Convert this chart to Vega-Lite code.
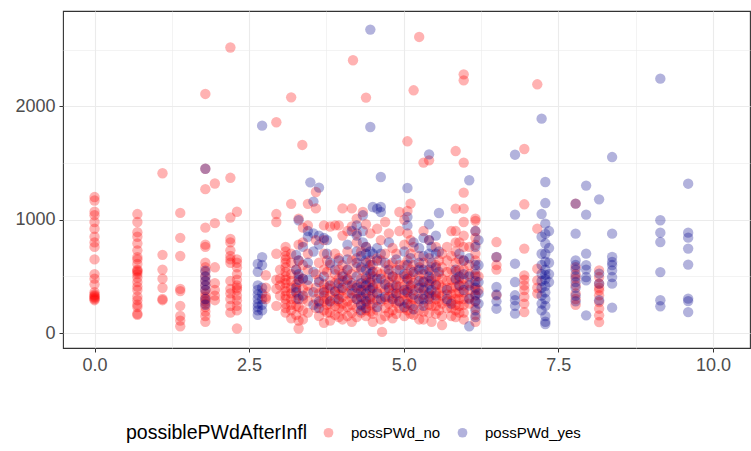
{
"$schema": "https://vega.github.io/schema/vega-lite/v6.json",
"width": 687, "height": 337,
"autosize": {"type": "none"},
"padding": {"left": 63, "top": 11, "right": 1, "bottom": 103},
"background": "white",
"config": {"view": {"stroke": "#333333", "strokeWidth": 1.1}, "font": "Liberation Sans"},
"datasets": {"pts": [
{"x":0,"y":1200,"g":"possPWd_no"},{"x":0,"y":1170,"g":"possPWd_no"},{"x":0,"y":1070,"g":"possPWd_no"},{"x":0,"y":1040,"g":"possPWd_no"},{"x":0,"y":980,"g":"possPWd_no"},{"x":0,"y":920,"g":"possPWd_no"},{"x":0,"y":850,"g":"possPWd_no"},{"x":0,"y":800,"g":"possPWd_no"},{"x":0,"y":760,"g":"possPWd_no"},{"x":0,"y":650,"g":"possPWd_no"},{"x":0,"y":520,"g":"possPWd_no"},{"x":0,"y":480,"g":"possPWd_no"},{"x":0,"y":430,"g":"possPWd_no"},{"x":0,"y":360,"g":"possPWd_no"},{"x":0,"y":340,"g":"possPWd_no"},{"x":0,"y":330,"g":"possPWd_no"},{"x":0,"y":320,"g":"possPWd_no"},{"x":0,"y":310,"g":"possPWd_no"},{"x":0,"y":300,"g":"possPWd_no"},{"x":0,"y":290,"g":"possPWd_no"},
{"x":0.693,"y":1050,"g":"possPWd_no"},{"x":0.693,"y":980,"g":"possPWd_no"},{"x":0.693,"y":890,"g":"possPWd_no"},{"x":0.693,"y":850,"g":"possPWd_no"},{"x":0.693,"y":790,"g":"possPWd_no"},{"x":0.693,"y":730,"g":"possPWd_no"},{"x":0.693,"y":670,"g":"possPWd_no"},{"x":0.693,"y":650,"g":"possPWd_no"},{"x":0.693,"y":610,"g":"possPWd_no"},{"x":0.693,"y":560,"g":"possPWd_no"},{"x":0.693,"y":550,"g":"possPWd_no"},{"x":0.693,"y":540,"g":"possPWd_no"},{"x":0.693,"y":520,"g":"possPWd_no"},{"x":0.693,"y":490,"g":"possPWd_no"},{"x":0.693,"y":450,"g":"possPWd_no"},{"x":0.693,"y":410,"g":"possPWd_no"},{"x":0.693,"y":380,"g":"possPWd_no"},{"x":0.693,"y":320,"g":"possPWd_no"},{"x":0.693,"y":290,"g":"possPWd_no"},{"x":0.693,"y":250,"g":"possPWd_no"},{"x":0.693,"y":230,"g":"possPWd_no"},{"x":0.693,"y":170,"g":"possPWd_no"},{"x":0.693,"y":160,"g":"possPWd_no"},
{"x":1.099,"y":1410,"g":"possPWd_no"},{"x":1.099,"y":690,"g":"possPWd_no"},{"x":1.099,"y":560,"g":"possPWd_no"},{"x":1.099,"y":480,"g":"possPWd_no"},{"x":1.099,"y":400,"g":"possPWd_no"},{"x":1.099,"y":300,"g":"possPWd_no"},{"x":1.099,"y":290,"g":"possPWd_no"},
{"x":1.386,"y":1060,"g":"possPWd_no"},{"x":1.386,"y":840,"g":"possPWd_no"},{"x":1.386,"y":680,"g":"possPWd_no"},{"x":1.386,"y":390,"g":"possPWd_no"},{"x":1.386,"y":370,"g":"possPWd_no"},{"x":1.386,"y":240,"g":"possPWd_no"},{"x":1.386,"y":150,"g":"possPWd_no"},{"x":1.386,"y":110,"g":"possPWd_no"},{"x":1.386,"y":60,"g":"possPWd_no"},
{"x":1.792,"y":2110,"g":"possPWd_no"},{"x":1.792,"y":1450,"g":"possPWd_no"},{"x":1.792,"y":1270,"g":"possPWd_no"},{"x":1.792,"y":930,"g":"possPWd_no"},{"x":1.792,"y":780,"g":"possPWd_no"},{"x":1.792,"y":760,"g":"possPWd_no"},{"x":1.792,"y":620,"g":"possPWd_no"},{"x":1.792,"y":580,"g":"possPWd_no"},{"x":1.792,"y":540,"g":"possPWd_no"},{"x":1.792,"y":500,"g":"possPWd_no"},{"x":1.792,"y":460,"g":"possPWd_no"},{"x":1.792,"y":420,"g":"possPWd_no"},{"x":1.792,"y":380,"g":"possPWd_no"},{"x":1.792,"y":350,"g":"possPWd_no"},{"x":1.792,"y":320,"g":"possPWd_no"},{"x":1.792,"y":300,"g":"possPWd_no"},{"x":1.792,"y":280,"g":"possPWd_no"},{"x":1.792,"y":260,"g":"possPWd_no"},{"x":1.792,"y":230,"g":"possPWd_no"},{"x":1.792,"y":190,"g":"possPWd_no"},{"x":1.792,"y":150,"g":"possPWd_no"},{"x":1.792,"y":100,"g":"possPWd_no"},
{"x":1.792,"y":1450,"g":"possPWd_yes"},{"x":1.792,"y":550,"g":"possPWd_yes"},{"x":1.792,"y":500,"g":"possPWd_yes"},{"x":1.792,"y":460,"g":"possPWd_yes"},{"x":1.792,"y":420,"g":"possPWd_yes"},{"x":1.792,"y":380,"g":"possPWd_yes"},{"x":1.792,"y":300,"g":"possPWd_yes"},{"x":1.792,"y":250,"g":"possPWd_yes"},
{"x":1.946,"y":1320,"g":"possPWd_no"},{"x":1.946,"y":970,"g":"possPWd_no"},{"x":1.946,"y":580,"g":"possPWd_no"},{"x":1.946,"y":440,"g":"possPWd_no"},{"x":1.946,"y":380,"g":"possPWd_no"},{"x":1.946,"y":330,"g":"possPWd_no"},{"x":1.946,"y":290,"g":"possPWd_no"},
{"x":2.197,"y":2520,"g":"possPWd_no"},{"x":2.197,"y":1370,"g":"possPWd_no"},{"x":2.197,"y":1020,"g":"possPWd_no"},{"x":2.197,"y":830,"g":"possPWd_no"},{"x":2.197,"y":800,"g":"possPWd_no"},{"x":2.197,"y":730,"g":"possPWd_no"},{"x":2.197,"y":680,"g":"possPWd_no"},{"x":2.197,"y":650,"g":"possPWd_no"},{"x":2.197,"y":620,"g":"possPWd_no"},{"x":2.197,"y":460,"g":"possPWd_no"},{"x":2.197,"y":390,"g":"possPWd_no"},{"x":2.197,"y":350,"g":"possPWd_no"},{"x":2.197,"y":300,"g":"possPWd_no"},{"x":2.197,"y":240,"g":"possPWd_no"},{"x":2.197,"y":180,"g":"possPWd_no"},
{"x":2.303,"y":1070,"g":"possPWd_no"},{"x":2.303,"y":650,"g":"possPWd_no"},{"x":2.303,"y":620,"g":"possPWd_no"},{"x":2.303,"y":580,"g":"possPWd_no"},{"x":2.303,"y":520,"g":"possPWd_no"},{"x":2.303,"y":470,"g":"possPWd_no"},{"x":2.303,"y":420,"g":"possPWd_no"},{"x":2.303,"y":400,"g":"possPWd_no"},{"x":2.303,"y":380,"g":"possPWd_no"},{"x":2.303,"y":330,"g":"possPWd_no"},{"x":2.303,"y":290,"g":"possPWd_no"},{"x":2.303,"y":240,"g":"possPWd_no"},{"x":2.303,"y":200,"g":"possPWd_no"},{"x":2.303,"y":40,"g":"possPWd_no"},
{"x":2.64,"y":610,"g":"possPWd_yes"},{"x":2.64,"y":540,"g":"possPWd_yes"},{"x":2.64,"y":420,"g":"possPWd_yes"},{"x":2.64,"y":380,"g":"possPWd_yes"},{"x":2.64,"y":340,"g":"possPWd_yes"},{"x":2.64,"y":300,"g":"possPWd_yes"},{"x":2.64,"y":260,"g":"possPWd_yes"},{"x":2.64,"y":230,"g":"possPWd_yes"},{"x":2.64,"y":200,"g":"possPWd_yes"},{"x":2.64,"y":160,"g":"possPWd_yes"},
{"x":2.71,"y":1830,"g":"possPWd_yes"},{"x":2.71,"y":670,"g":"possPWd_yes"},{"x":2.71,"y":600,"g":"possPWd_yes"},{"x":2.71,"y":400,"g":"possPWd_yes"},{"x":2.71,"y":350,"g":"possPWd_yes"},{"x":2.71,"y":300,"g":"possPWd_yes"},{"x":2.71,"y":250,"g":"possPWd_yes"},{"x":2.71,"y":200,"g":"possPWd_yes"},
{"x":2.77,"y":510,"g":"possPWd_no"},{"x":2.77,"y":400,"g":"possPWd_no"},{"x":2.77,"y":320,"g":"possPWd_no"},{"x":2.77,"y":300,"g":"possPWd_no"},
{"x":2.94,"y":1860,"g":"possPWd_no"},{"x":2.94,"y":1050,"g":"possPWd_no"},{"x":2.94,"y":980,"g":"possPWd_no"},{"x":2.94,"y":700,"g":"possPWd_no"},{"x":2.94,"y":470,"g":"possPWd_no"},{"x":2.94,"y":390,"g":"possPWd_no"},{"x":2.94,"y":240,"g":"possPWd_no"},
{"x":3.0,"y":560,"g":"possPWd_no"},{"x":3.0,"y":480,"g":"possPWd_no"},{"x":3.0,"y":420,"g":"possPWd_no"},{"x":3.0,"y":330,"g":"possPWd_no"},
{"x":3.09,"y":760,"g":"possPWd_no"},{"x":3.09,"y":720,"g":"possPWd_no"},{"x":3.09,"y":680,"g":"possPWd_no"},{"x":3.09,"y":650,"g":"possPWd_no"},{"x":3.09,"y":620,"g":"possPWd_no"},{"x":3.09,"y":580,"g":"possPWd_no"},{"x":3.09,"y":540,"g":"possPWd_no"},{"x":3.09,"y":500,"g":"possPWd_no"},{"x":3.09,"y":470,"g":"possPWd_no"},{"x":3.09,"y":440,"g":"possPWd_no"},{"x":3.09,"y":400,"g":"possPWd_no"},{"x":3.09,"y":370,"g":"possPWd_no"},{"x":3.09,"y":330,"g":"possPWd_no"},{"x":3.09,"y":300,"g":"possPWd_no"},{"x":3.09,"y":260,"g":"possPWd_no"},{"x":3.09,"y":220,"g":"possPWd_no"},{"x":3.09,"y":180,"g":"possPWd_no"},
{"x":3.18,"y":2080,"g":"possPWd_no"},{"x":3.18,"y":1140,"g":"possPWd_no"},{"x":3.18,"y":700,"g":"possPWd_no"},{"x":3.18,"y":620,"g":"possPWd_no"},{"x":3.18,"y":520,"g":"possPWd_no"},{"x":3.18,"y":460,"g":"possPWd_no"},{"x":3.18,"y":400,"g":"possPWd_no"},{"x":3.18,"y":350,"g":"possPWd_no"},{"x":3.18,"y":300,"g":"possPWd_no"},{"x":3.18,"y":250,"g":"possPWd_no"},{"x":3.18,"y":200,"g":"possPWd_no"},{"x":3.18,"y":130,"g":"possPWd_no"},
{"x":3.26,"y":560,"g":"possPWd_no"},{"x":3.26,"y":430,"g":"possPWd_no"},{"x":3.26,"y":380,"g":"possPWd_no"},{"x":3.26,"y":300,"g":"possPWd_no"},{"x":3.26,"y":240,"g":"possPWd_no"},{"x":3.26,"y":160,"g":"possPWd_no"},
{"x":3.26,"y":690,"g":"possPWd_yes"},{"x":3.26,"y":560,"g":"possPWd_yes"},{"x":3.26,"y":400,"g":"possPWd_yes"},{"x":3.26,"y":360,"g":"possPWd_yes"},
{"x":3.3,"y":1010,"g":"possPWd_no"},{"x":3.3,"y":780,"g":"possPWd_no"},{"x":3.3,"y":640,"g":"possPWd_no"},{"x":3.3,"y":500,"g":"possPWd_no"},{"x":3.3,"y":450,"g":"possPWd_no"},{"x":3.3,"y":330,"g":"possPWd_no"},{"x":3.3,"y":230,"g":"possPWd_no"},{"x":3.3,"y":110,"g":"possPWd_no"},{"x":3.3,"y":40,"g":"possPWd_no"},
{"x":3.3,"y":995,"g":"possPWd_yes"},{"x":3.3,"y":640,"g":"possPWd_yes"},{"x":3.3,"y":520,"g":"possPWd_yes"},{"x":3.3,"y":470,"g":"possPWd_yes"},{"x":3.3,"y":300,"g":"possPWd_yes"},
{"x":3.36,"y":1660,"g":"possPWd_no"},
{"x":3.37,"y":930,"g":"possPWd_no"},{"x":3.37,"y":800,"g":"possPWd_no"},{"x":3.37,"y":600,"g":"possPWd_no"},{"x":3.37,"y":480,"g":"possPWd_no"},{"x":3.37,"y":390,"g":"possPWd_no"},{"x":3.37,"y":300,"g":"possPWd_no"},{"x":3.37,"y":200,"g":"possPWd_no"},{"x":3.37,"y":120,"g":"possPWd_no"},
{"x":3.37,"y":760,"g":"possPWd_yes"},{"x":3.37,"y":480,"g":"possPWd_yes"},{"x":3.37,"y":330,"g":"possPWd_yes"},
{"x":3.45,"y":1140,"g":"possPWd_no"},{"x":3.45,"y":950,"g":"possPWd_no"},{"x":3.45,"y":700,"g":"possPWd_no"},{"x":3.45,"y":560,"g":"possPWd_no"},{"x":3.45,"y":420,"g":"possPWd_no"},{"x":3.45,"y":360,"g":"possPWd_no"},{"x":3.45,"y":280,"g":"possPWd_no"},{"x":3.45,"y":180,"g":"possPWd_no"},
{"x":3.45,"y":900,"g":"possPWd_yes"},{"x":3.45,"y":850,"g":"possPWd_yes"},{"x":3.45,"y":620,"g":"possPWd_yes"},{"x":3.45,"y":470,"g":"possPWd_yes"},
{"x":3.49,"y":1330,"g":"possPWd_yes"},
{"x":3.54,"y":1160,"g":"possPWd_yes"},{"x":3.54,"y":880,"g":"possPWd_yes"},{"x":3.54,"y":720,"g":"possPWd_yes"},{"x":3.54,"y":540,"g":"possPWd_yes"},{"x":3.54,"y":360,"g":"possPWd_yes"},{"x":3.54,"y":250,"g":"possPWd_yes"},
{"x":3.58,"y":1245,"g":"possPWd_no"},{"x":3.58,"y":1100,"g":"possPWd_no"},{"x":3.58,"y":820,"g":"possPWd_no"},{"x":3.58,"y":520,"g":"possPWd_no"},{"x":3.58,"y":400,"g":"possPWd_no"},{"x":3.58,"y":300,"g":"possPWd_no"},{"x":3.58,"y":220,"g":"possPWd_no"},
{"x":3.63,"y":620,"g":"possPWd_no"},{"x":3.63,"y":470,"g":"possPWd_no"},{"x":3.63,"y":350,"g":"possPWd_no"},{"x":3.63,"y":260,"g":"possPWd_no"},{"x":3.63,"y":150,"g":"possPWd_no"},
{"x":3.63,"y":1283,"g":"possPWd_yes"},{"x":3.63,"y":860,"g":"possPWd_yes"},{"x":3.63,"y":780,"g":"possPWd_yes"},{"x":3.63,"y":450,"g":"possPWd_yes"},{"x":3.63,"y":280,"g":"possPWd_yes"},{"x":3.63,"y":220,"g":"possPWd_yes"},
{"x":3.71,"y":950,"g":"possPWd_no"},{"x":3.71,"y":820,"g":"possPWd_no"},{"x":3.71,"y":700,"g":"possPWd_no"},{"x":3.71,"y":560,"g":"possPWd_no"},{"x":3.71,"y":430,"g":"possPWd_no"},{"x":3.71,"y":380,"g":"possPWd_no"},{"x":3.71,"y":330,"g":"possPWd_no"},{"x":3.71,"y":280,"g":"possPWd_no"},{"x":3.71,"y":200,"g":"possPWd_no"},{"x":3.71,"y":90,"g":"possPWd_no"},
{"x":3.71,"y":840,"g":"possPWd_yes"},{"x":3.71,"y":500,"g":"possPWd_yes"},{"x":3.71,"y":360,"g":"possPWd_yes"},
{"x":3.76,"y":640,"g":"possPWd_no"},{"x":3.76,"y":540,"g":"possPWd_no"},{"x":3.76,"y":400,"g":"possPWd_no"},{"x":3.76,"y":300,"g":"possPWd_no"},{"x":3.76,"y":250,"g":"possPWd_no"},{"x":3.76,"y":180,"g":"possPWd_no"},
{"x":3.76,"y":820,"g":"possPWd_yes"},{"x":3.76,"y":700,"g":"possPWd_yes"},
{"x":3.81,"y":940,"g":"possPWd_no"},{"x":3.81,"y":600,"g":"possPWd_no"},{"x":3.81,"y":460,"g":"possPWd_no"},{"x":3.81,"y":390,"g":"possPWd_no"},{"x":3.81,"y":330,"g":"possPWd_no"},{"x":3.81,"y":260,"g":"possPWd_no"},{"x":3.81,"y":180,"g":"possPWd_no"},{"x":3.81,"y":110,"g":"possPWd_no"},
{"x":3.81,"y":620,"g":"possPWd_yes"},{"x":3.81,"y":420,"g":"possPWd_yes"},{"x":3.81,"y":280,"g":"possPWd_yes"},
{"x":3.89,"y":950,"g":"possPWd_no"},{"x":3.89,"y":700,"g":"possPWd_no"},{"x":3.89,"y":520,"g":"possPWd_no"},{"x":3.89,"y":440,"g":"possPWd_no"},{"x":3.89,"y":360,"g":"possPWd_no"},{"x":3.89,"y":300,"g":"possPWd_no"},{"x":3.89,"y":240,"g":"possPWd_no"},{"x":3.89,"y":160,"g":"possPWd_no"},
{"x":3.89,"y":560,"g":"possPWd_yes"},{"x":3.89,"y":370,"g":"possPWd_yes"},
{"x":3.95,"y":950,"g":"possPWd_no"},{"x":3.95,"y":660,"g":"possPWd_no"},{"x":3.95,"y":560,"g":"possPWd_no"},{"x":3.95,"y":480,"g":"possPWd_no"},{"x":3.95,"y":400,"g":"possPWd_no"},{"x":3.95,"y":340,"g":"possPWd_no"},{"x":3.95,"y":280,"g":"possPWd_no"},{"x":3.95,"y":220,"g":"possPWd_no"},{"x":3.95,"y":140,"g":"possPWd_no"},
{"x":3.95,"y":640,"g":"possPWd_yes"},{"x":3.95,"y":440,"g":"possPWd_yes"},{"x":3.95,"y":300,"g":"possPWd_yes"},
{"x":4.01,"y":1100,"g":"possPWd_no"},{"x":4.01,"y":860,"g":"possPWd_no"},{"x":4.01,"y":600,"g":"possPWd_no"},{"x":4.01,"y":520,"g":"possPWd_no"},{"x":4.01,"y":460,"g":"possPWd_no"},{"x":4.01,"y":380,"g":"possPWd_no"},{"x":4.01,"y":320,"g":"possPWd_no"},{"x":4.01,"y":260,"g":"possPWd_no"},{"x":4.01,"y":200,"g":"possPWd_no"},{"x":4.01,"y":120,"g":"possPWd_no"},
{"x":4.01,"y":500,"g":"possPWd_yes"},{"x":4.01,"y":400,"g":"possPWd_yes"},
{"x":4.09,"y":900,"g":"possPWd_no"},{"x":4.09,"y":720,"g":"possPWd_no"},{"x":4.09,"y":560,"g":"possPWd_no"},{"x":4.09,"y":480,"g":"possPWd_no"},{"x":4.09,"y":420,"g":"possPWd_no"},{"x":4.09,"y":350,"g":"possPWd_no"},{"x":4.09,"y":280,"g":"possPWd_no"},{"x":4.09,"y":230,"g":"possPWd_no"},{"x":4.09,"y":150,"g":"possPWd_no"},
{"x":4.09,"y":780,"g":"possPWd_yes"},{"x":4.09,"y":650,"g":"possPWd_yes"},{"x":4.09,"y":560,"g":"possPWd_yes"},{"x":4.09,"y":470,"g":"possPWd_yes"},
{"x":4.16,"y":1100,"g":"possPWd_no"},{"x":4.16,"y":940,"g":"possPWd_no"},{"x":4.16,"y":640,"g":"possPWd_no"},{"x":4.16,"y":520,"g":"possPWd_no"},{"x":4.16,"y":440,"g":"possPWd_no"},{"x":4.16,"y":380,"g":"possPWd_no"},{"x":4.16,"y":310,"g":"possPWd_no"},{"x":4.16,"y":250,"g":"possPWd_no"},{"x":4.16,"y":180,"g":"possPWd_no"},{"x":4.16,"y":100,"g":"possPWd_no"},
{"x":4.16,"y":900,"g":"possPWd_yes"},{"x":4.16,"y":420,"g":"possPWd_yes"},{"x":4.16,"y":350,"g":"possPWd_yes"},
{"x":4.18,"y":2407,"g":"possPWd_no"},
{"x":4.24,"y":1010,"g":"possPWd_no"},{"x":4.24,"y":880,"g":"possPWd_no"},{"x":4.24,"y":800,"g":"possPWd_no"},{"x":4.24,"y":660,"g":"possPWd_no"},{"x":4.24,"y":580,"g":"possPWd_no"},{"x":4.24,"y":420,"g":"possPWd_no"},{"x":4.24,"y":350,"g":"possPWd_no"},{"x":4.24,"y":300,"g":"possPWd_no"},{"x":4.24,"y":220,"g":"possPWd_no"},{"x":4.24,"y":140,"g":"possPWd_no"},
{"x":4.24,"y":950,"g":"possPWd_yes"},{"x":4.24,"y":860,"g":"possPWd_yes"},{"x":4.24,"y":720,"g":"possPWd_yes"},{"x":4.24,"y":620,"g":"possPWd_yes"},{"x":4.24,"y":500,"g":"possPWd_yes"},{"x":4.24,"y":400,"g":"possPWd_yes"},{"x":4.24,"y":300,"g":"possPWd_yes"},
{"x":4.31,"y":720,"g":"possPWd_no"},{"x":4.31,"y":560,"g":"possPWd_no"},{"x":4.31,"y":480,"g":"possPWd_no"},{"x":4.31,"y":410,"g":"possPWd_no"},{"x":4.31,"y":360,"g":"possPWd_no"},{"x":4.31,"y":300,"g":"possPWd_no"},{"x":4.31,"y":240,"g":"possPWd_no"},{"x":4.31,"y":180,"g":"possPWd_no"},
{"x":4.31,"y":680,"g":"possPWd_yes"},{"x":4.31,"y":580,"g":"possPWd_yes"},{"x":4.31,"y":440,"g":"possPWd_yes"},{"x":4.31,"y":380,"g":"possPWd_yes"},{"x":4.31,"y":320,"g":"possPWd_yes"},{"x":4.31,"y":250,"g":"possPWd_yes"},{"x":4.31,"y":200,"g":"possPWd_yes"},
{"x":4.34,"y":1068,"g":"possPWd_no"},
{"x":4.34,"y":1039,"g":"possPWd_yes"},{"x":4.34,"y":900,"g":"possPWd_yes"},{"x":4.34,"y":800,"g":"possPWd_yes"},
{"x":4.39,"y":2078,"g":"possPWd_no"},{"x":4.39,"y":960,"g":"possPWd_no"},{"x":4.39,"y":760,"g":"possPWd_no"},{"x":4.39,"y":620,"g":"possPWd_no"},{"x":4.39,"y":500,"g":"possPWd_no"},{"x":4.39,"y":440,"g":"possPWd_no"},{"x":4.39,"y":380,"g":"possPWd_no"},{"x":4.39,"y":300,"g":"possPWd_no"},{"x":4.39,"y":260,"g":"possPWd_no"},{"x":4.39,"y":200,"g":"possPWd_no"},{"x":4.39,"y":150,"g":"possPWd_no"},
{"x":4.39,"y":760,"g":"possPWd_yes"},{"x":4.39,"y":700,"g":"possPWd_yes"},{"x":4.39,"y":640,"g":"possPWd_yes"},{"x":4.39,"y":560,"g":"possPWd_yes"},{"x":4.39,"y":480,"g":"possPWd_yes"},{"x":4.39,"y":420,"g":"possPWd_yes"},{"x":4.39,"y":350,"g":"possPWd_yes"},{"x":4.39,"y":280,"g":"possPWd_yes"},{"x":4.39,"y":220,"g":"possPWd_yes"},
{"x":4.46,"y":880,"g":"possPWd_no"},{"x":4.46,"y":640,"g":"possPWd_no"},{"x":4.46,"y":560,"g":"possPWd_no"},{"x":4.46,"y":480,"g":"possPWd_no"},{"x":4.46,"y":400,"g":"possPWd_no"},{"x":4.46,"y":320,"g":"possPWd_no"},{"x":4.46,"y":250,"g":"possPWd_no"},{"x":4.46,"y":190,"g":"possPWd_no"},
{"x":4.46,"y":2678,"g":"possPWd_yes"},{"x":4.46,"y":1818,"g":"possPWd_yes"},{"x":4.46,"y":720,"g":"possPWd_yes"},{"x":4.46,"y":600,"g":"possPWd_yes"},{"x":4.46,"y":520,"g":"possPWd_yes"},{"x":4.46,"y":450,"g":"possPWd_yes"},{"x":4.46,"y":380,"g":"possPWd_yes"},{"x":4.46,"y":300,"g":"possPWd_yes"},
{"x":4.5,"y":600,"g":"possPWd_no"},{"x":4.5,"y":500,"g":"possPWd_no"},{"x":4.5,"y":420,"g":"possPWd_no"},{"x":4.5,"y":340,"g":"possPWd_no"},{"x":4.5,"y":260,"g":"possPWd_no"},{"x":4.5,"y":170,"g":"possPWd_no"},{"x":4.5,"y":100,"g":"possPWd_no"},
{"x":4.5,"y":1112,"g":"possPWd_yes"},{"x":4.5,"y":700,"g":"possPWd_yes"},{"x":4.5,"y":540,"g":"possPWd_yes"},{"x":4.5,"y":400,"g":"possPWd_yes"},
{"x":4.57,"y":920,"g":"possPWd_no"},{"x":4.57,"y":660,"g":"possPWd_no"},{"x":4.57,"y":540,"g":"possPWd_no"},{"x":4.57,"y":440,"g":"possPWd_no"},{"x":4.57,"y":360,"g":"possPWd_no"},{"x":4.57,"y":290,"g":"possPWd_no"},{"x":4.57,"y":200,"g":"possPWd_no"},
{"x":4.57,"y":1098,"g":"possPWd_yes"},{"x":4.57,"y":750,"g":"possPWd_yes"},{"x":4.57,"y":640,"g":"possPWd_yes"},{"x":4.57,"y":480,"g":"possPWd_yes"},{"x":4.57,"y":350,"g":"possPWd_yes"},{"x":4.57,"y":230,"g":"possPWd_yes"},
{"x":4.63,"y":820,"g":"possPWd_no"},{"x":4.63,"y":640,"g":"possPWd_no"},{"x":4.63,"y":520,"g":"possPWd_no"},{"x":4.63,"y":400,"g":"possPWd_no"},{"x":4.63,"y":280,"g":"possPWd_no"},{"x":4.63,"y":120,"g":"possPWd_no"},
{"x":4.63,"y":1377,"g":"possPWd_yes"},{"x":4.63,"y":1112,"g":"possPWd_yes"},{"x":4.63,"y":1068,"g":"possPWd_yes"},{"x":4.63,"y":700,"g":"possPWd_yes"},{"x":4.63,"y":480,"g":"possPWd_yes"},{"x":4.63,"y":300,"g":"possPWd_yes"},
{"x":4.65,"y":10,"g":"possPWd_no"},
{"x":4.7,"y":980,"g":"possPWd_no"},{"x":4.7,"y":700,"g":"possPWd_no"},{"x":4.7,"y":560,"g":"possPWd_no"},{"x":4.7,"y":470,"g":"possPWd_no"},{"x":4.7,"y":380,"g":"possPWd_no"},{"x":4.7,"y":300,"g":"possPWd_no"},{"x":4.7,"y":220,"g":"possPWd_no"},{"x":4.7,"y":150,"g":"possPWd_no"},
{"x":4.7,"y":620,"g":"possPWd_yes"},{"x":4.7,"y":430,"g":"possPWd_yes"},{"x":4.7,"y":320,"g":"possPWd_yes"},
{"x":4.76,"y":880,"g":"possPWd_no"},{"x":4.76,"y":600,"g":"possPWd_no"},{"x":4.76,"y":520,"g":"possPWd_no"},{"x":4.76,"y":450,"g":"possPWd_no"},{"x":4.76,"y":380,"g":"possPWd_no"},{"x":4.76,"y":320,"g":"possPWd_no"},{"x":4.76,"y":260,"g":"possPWd_no"},{"x":4.76,"y":180,"g":"possPWd_no"},
{"x":4.76,"y":800,"g":"possPWd_yes"},{"x":4.76,"y":560,"g":"possPWd_yes"},{"x":4.76,"y":400,"g":"possPWd_yes"},
{"x":4.82,"y":750,"g":"possPWd_no"},{"x":4.82,"y":620,"g":"possPWd_no"},{"x":4.82,"y":500,"g":"possPWd_no"},{"x":4.82,"y":420,"g":"possPWd_no"},{"x":4.82,"y":350,"g":"possPWd_no"},{"x":4.82,"y":280,"g":"possPWd_no"},{"x":4.82,"y":200,"g":"possPWd_no"},{"x":4.82,"y":130,"g":"possPWd_no"},
{"x":4.82,"y":500,"g":"possPWd_yes"},{"x":4.82,"y":300,"g":"possPWd_yes"},
{"x":4.88,"y":700,"g":"possPWd_no"},{"x":4.88,"y":560,"g":"possPWd_no"},{"x":4.88,"y":480,"g":"possPWd_no"},{"x":4.88,"y":400,"g":"possPWd_no"},{"x":4.88,"y":330,"g":"possPWd_no"},{"x":4.88,"y":260,"g":"possPWd_no"},{"x":4.88,"y":170,"g":"possPWd_no"},
{"x":4.88,"y":650,"g":"possPWd_yes"},{"x":4.88,"y":420,"g":"possPWd_yes"},{"x":4.88,"y":350,"g":"possPWd_yes"},
{"x":4.93,"y":1068,"g":"possPWd_no"},{"x":4.93,"y":900,"g":"possPWd_no"},{"x":4.93,"y":600,"g":"possPWd_no"},{"x":4.93,"y":480,"g":"possPWd_no"},{"x":4.93,"y":410,"g":"possPWd_no"},{"x":4.93,"y":350,"g":"possPWd_no"},{"x":4.93,"y":280,"g":"possPWd_no"},{"x":4.93,"y":220,"g":"possPWd_no"},
{"x":4.93,"y":560,"g":"possPWd_yes"},{"x":4.93,"y":280,"g":"possPWd_yes"},
{"x":5.01,"y":1000,"g":"possPWd_no"},{"x":5.01,"y":780,"g":"possPWd_no"},{"x":5.01,"y":600,"g":"possPWd_no"},{"x":5.01,"y":500,"g":"possPWd_no"},{"x":5.01,"y":420,"g":"possPWd_no"},{"x":5.01,"y":350,"g":"possPWd_no"},{"x":5.01,"y":290,"g":"possPWd_no"},{"x":5.01,"y":220,"g":"possPWd_no"},{"x":5.01,"y":150,"g":"possPWd_no"},
{"x":5.01,"y":720,"g":"possPWd_yes"},{"x":5.01,"y":520,"g":"possPWd_yes"},{"x":5.01,"y":380,"g":"possPWd_yes"},{"x":5.01,"y":230,"g":"possPWd_yes"},
{"x":5.06,"y":1692,"g":"possPWd_no"},{"x":5.06,"y":1077,"g":"possPWd_no"},{"x":5.06,"y":880,"g":"possPWd_no"},{"x":5.06,"y":640,"g":"possPWd_no"},{"x":5.06,"y":520,"g":"possPWd_no"},{"x":5.06,"y":460,"g":"possPWd_no"},{"x":5.06,"y":380,"g":"possPWd_no"},{"x":5.06,"y":300,"g":"possPWd_no"},{"x":5.06,"y":200,"g":"possPWd_no"},
{"x":5.06,"y":1280,"g":"possPWd_yes"},{"x":5.06,"y":1024,"g":"possPWd_yes"},{"x":5.06,"y":950,"g":"possPWd_yes"},{"x":5.06,"y":600,"g":"possPWd_yes"},{"x":5.06,"y":480,"g":"possPWd_yes"},{"x":5.06,"y":360,"g":"possPWd_yes"},{"x":5.06,"y":260,"g":"possPWd_yes"},
{"x":5.11,"y":1142,"g":"possPWd_no"},{"x":5.11,"y":820,"g":"possPWd_no"},{"x":5.11,"y":700,"g":"possPWd_no"},{"x":5.11,"y":560,"g":"possPWd_no"},{"x":5.11,"y":480,"g":"possPWd_no"},{"x":5.11,"y":400,"g":"possPWd_no"},{"x":5.11,"y":320,"g":"possPWd_no"},{"x":5.11,"y":250,"g":"possPWd_no"},{"x":5.11,"y":170,"g":"possPWd_no"},
{"x":5.11,"y":660,"g":"possPWd_yes"},{"x":5.11,"y":420,"g":"possPWd_yes"},
{"x":5.16,"y":2142,"g":"possPWd_no"},{"x":5.16,"y":760,"g":"possPWd_no"},{"x":5.16,"y":600,"g":"possPWd_no"},{"x":5.16,"y":520,"g":"possPWd_no"},{"x":5.16,"y":440,"g":"possPWd_no"},{"x":5.16,"y":380,"g":"possPWd_no"},{"x":5.16,"y":300,"g":"possPWd_no"},{"x":5.16,"y":240,"g":"possPWd_no"},{"x":5.16,"y":160,"g":"possPWd_no"},
{"x":5.16,"y":800,"g":"possPWd_yes"},{"x":5.16,"y":540,"g":"possPWd_yes"},{"x":5.16,"y":340,"g":"possPWd_yes"},{"x":5.16,"y":210,"g":"possPWd_yes"},
{"x":5.25,"y":2613,"g":"possPWd_no"},{"x":5.25,"y":680,"g":"possPWd_no"},{"x":5.25,"y":580,"g":"possPWd_no"},{"x":5.25,"y":500,"g":"possPWd_no"},{"x":5.25,"y":420,"g":"possPWd_no"},{"x":5.25,"y":350,"g":"possPWd_no"},{"x":5.25,"y":280,"g":"possPWd_no"},{"x":5.25,"y":200,"g":"possPWd_no"},{"x":5.25,"y":120,"g":"possPWd_no"},
{"x":5.25,"y":750,"g":"possPWd_yes"},{"x":5.25,"y":620,"g":"possPWd_yes"},{"x":5.25,"y":560,"g":"possPWd_yes"},{"x":5.25,"y":460,"g":"possPWd_yes"},{"x":5.25,"y":400,"g":"possPWd_yes"},{"x":5.25,"y":300,"g":"possPWd_yes"},
{"x":5.32,"y":1504,"g":"possPWd_no"},{"x":5.32,"y":900,"g":"possPWd_no"},{"x":5.32,"y":620,"g":"possPWd_no"},{"x":5.32,"y":520,"g":"possPWd_no"},{"x":5.32,"y":460,"g":"possPWd_no"},{"x":5.32,"y":400,"g":"possPWd_no"},{"x":5.32,"y":340,"g":"possPWd_no"},{"x":5.32,"y":270,"g":"possPWd_no"},{"x":5.32,"y":190,"g":"possPWd_no"},{"x":5.32,"y":120,"g":"possPWd_no"},
{"x":5.32,"y":840,"g":"possPWd_yes"},{"x":5.32,"y":680,"g":"possPWd_yes"},{"x":5.32,"y":560,"g":"possPWd_yes"},{"x":5.32,"y":450,"g":"possPWd_yes"},{"x":5.32,"y":380,"g":"possPWd_yes"},{"x":5.32,"y":300,"g":"possPWd_yes"},{"x":5.32,"y":240,"g":"possPWd_yes"},
{"x":5.41,"y":1524,"g":"possPWd_no"},{"x":5.41,"y":820,"g":"possPWd_no"},{"x":5.41,"y":660,"g":"possPWd_no"},{"x":5.41,"y":540,"g":"possPWd_no"},{"x":5.41,"y":460,"g":"possPWd_no"},{"x":5.41,"y":390,"g":"possPWd_no"},{"x":5.41,"y":320,"g":"possPWd_no"},{"x":5.41,"y":250,"g":"possPWd_no"},{"x":5.41,"y":180,"g":"possPWd_no"},
{"x":5.41,"y":1577,"g":"possPWd_yes"},{"x":5.41,"y":960,"g":"possPWd_yes"},{"x":5.41,"y":820,"g":"possPWd_yes"},{"x":5.41,"y":700,"g":"possPWd_yes"},{"x":5.41,"y":560,"g":"possPWd_yes"},{"x":5.41,"y":500,"g":"possPWd_yes"},{"x":5.41,"y":430,"g":"possPWd_yes"},{"x":5.41,"y":350,"g":"possPWd_yes"},{"x":5.41,"y":300,"g":"possPWd_yes"},
{"x":5.45,"y":580,"g":"possPWd_no"},{"x":5.45,"y":460,"g":"possPWd_no"},{"x":5.45,"y":330,"g":"possPWd_no"},{"x":5.45,"y":240,"g":"possPWd_no"},{"x":5.45,"y":100,"g":"possPWd_no"},
{"x":5.45,"y":760,"g":"possPWd_yes"},{"x":5.45,"y":620,"g":"possPWd_yes"},{"x":5.45,"y":480,"g":"possPWd_yes"},{"x":5.45,"y":380,"g":"possPWd_yes"},
{"x":5.52,"y":760,"g":"possPWd_no"},{"x":5.52,"y":600,"g":"possPWd_no"},{"x":5.52,"y":500,"g":"possPWd_no"},{"x":5.52,"y":430,"g":"possPWd_no"},{"x":5.52,"y":360,"g":"possPWd_no"},{"x":5.52,"y":300,"g":"possPWd_no"},{"x":5.52,"y":240,"g":"possPWd_no"},{"x":5.52,"y":170,"g":"possPWd_no"},
{"x":5.52,"y":860,"g":"possPWd_yes"},{"x":5.52,"y":700,"g":"possPWd_yes"},{"x":5.52,"y":580,"g":"possPWd_yes"},{"x":5.52,"y":420,"g":"possPWd_yes"},{"x":5.52,"y":330,"g":"possPWd_yes"},
{"x":5.57,"y":640,"g":"possPWd_no"},{"x":5.57,"y":520,"g":"possPWd_no"},{"x":5.57,"y":430,"g":"possPWd_no"},{"x":5.57,"y":350,"g":"possPWd_no"},{"x":5.57,"y":280,"g":"possPWd_no"},{"x":5.57,"y":200,"g":"possPWd_no"},
{"x":5.57,"y":1059,"g":"possPWd_yes"},{"x":5.57,"y":720,"g":"possPWd_yes"},{"x":5.57,"y":540,"g":"possPWd_yes"},
{"x":5.62,"y":700,"g":"possPWd_no"},{"x":5.62,"y":580,"g":"possPWd_no"},{"x":5.62,"y":480,"g":"possPWd_no"},{"x":5.62,"y":400,"g":"possPWd_no"},{"x":5.62,"y":330,"g":"possPWd_no"},{"x":5.62,"y":260,"g":"possPWd_no"},{"x":5.62,"y":150,"g":"possPWd_no"},{"x":5.62,"y":70,"g":"possPWd_no"},
{"x":5.7,"y":760,"g":"possPWd_no"},{"x":5.7,"y":640,"g":"possPWd_no"},{"x":5.7,"y":540,"g":"possPWd_no"},{"x":5.7,"y":460,"g":"possPWd_no"},{"x":5.7,"y":400,"g":"possPWd_no"},{"x":5.7,"y":340,"g":"possPWd_no"},{"x":5.7,"y":280,"g":"possPWd_no"},{"x":5.7,"y":220,"g":"possPWd_no"},
{"x":5.7,"y":380,"g":"possPWd_yes"},{"x":5.7,"y":300,"g":"possPWd_yes"},
{"x":5.77,"y":900,"g":"possPWd_no"},{"x":5.77,"y":680,"g":"possPWd_no"},{"x":5.77,"y":560,"g":"possPWd_no"},{"x":5.77,"y":470,"g":"possPWd_no"},{"x":5.77,"y":400,"g":"possPWd_no"},{"x":5.77,"y":340,"g":"possPWd_no"},{"x":5.77,"y":280,"g":"possPWd_no"},{"x":5.77,"y":220,"g":"possPWd_no"},{"x":5.77,"y":150,"g":"possPWd_no"},
{"x":5.77,"y":260,"g":"possPWd_yes"},
{"x":5.84,"y":1606,"g":"possPWd_no"},{"x":5.84,"y":1098,"g":"possPWd_no"},{"x":5.84,"y":900,"g":"possPWd_no"},{"x":5.84,"y":800,"g":"possPWd_no"},{"x":5.84,"y":720,"g":"possPWd_no"},{"x":5.84,"y":620,"g":"possPWd_no"},{"x":5.84,"y":540,"g":"possPWd_no"},{"x":5.84,"y":470,"g":"possPWd_no"},{"x":5.84,"y":410,"g":"possPWd_no"},{"x":5.84,"y":350,"g":"possPWd_no"},{"x":5.84,"y":300,"g":"possPWd_no"},{"x":5.84,"y":250,"g":"possPWd_no"},{"x":5.84,"y":200,"g":"possPWd_no"},{"x":5.84,"y":140,"g":"possPWd_no"},
{"x":5.84,"y":560,"g":"possPWd_yes"},{"x":5.84,"y":480,"g":"possPWd_yes"},
{"x":5.9,"y":800,"g":"possPWd_no"},{"x":5.9,"y":650,"g":"possPWd_no"},{"x":5.9,"y":560,"g":"possPWd_no"},{"x":5.9,"y":480,"g":"possPWd_no"},{"x":5.9,"y":420,"g":"possPWd_no"},{"x":5.9,"y":360,"g":"possPWd_no"},{"x":5.9,"y":300,"g":"possPWd_no"},{"x":5.9,"y":240,"g":"possPWd_no"},{"x":5.9,"y":180,"g":"possPWd_no"},
{"x":5.9,"y":700,"g":"possPWd_yes"},{"x":5.9,"y":500,"g":"possPWd_yes"},{"x":5.9,"y":420,"g":"possPWd_yes"},
{"x":5.97,"y":2283,"g":"possPWd_no"},{"x":5.97,"y":2230,"g":"possPWd_no"},{"x":5.97,"y":1504,"g":"possPWd_no"},{"x":5.97,"y":1239,"g":"possPWd_no"},{"x":5.97,"y":1098,"g":"possPWd_no"},{"x":5.97,"y":980,"g":"possPWd_no"},{"x":5.97,"y":860,"g":"possPWd_no"},{"x":5.97,"y":760,"g":"possPWd_no"},{"x":5.97,"y":640,"g":"possPWd_no"},{"x":5.97,"y":560,"g":"possPWd_no"},{"x":5.97,"y":480,"g":"possPWd_no"},{"x":5.97,"y":420,"g":"possPWd_no"},{"x":5.97,"y":360,"g":"possPWd_no"},{"x":5.97,"y":300,"g":"possPWd_no"},{"x":5.97,"y":250,"g":"possPWd_no"},{"x":5.97,"y":180,"g":"possPWd_no"},{"x":5.97,"y":120,"g":"possPWd_no"},
{"x":5.97,"y":640,"g":"possPWd_yes"},{"x":5.97,"y":520,"g":"possPWd_yes"},{"x":5.97,"y":380,"g":"possPWd_yes"},
{"x":6.06,"y":760,"g":"possPWd_no"},{"x":6.06,"y":600,"g":"possPWd_no"},{"x":6.06,"y":520,"g":"possPWd_no"},{"x":6.06,"y":440,"g":"possPWd_no"},{"x":6.06,"y":380,"g":"possPWd_no"},{"x":6.06,"y":310,"g":"possPWd_no"},{"x":6.06,"y":260,"g":"possPWd_no"},
{"x":6.06,"y":1348,"g":"possPWd_yes"},{"x":6.06,"y":660,"g":"possPWd_yes"},{"x":6.06,"y":500,"g":"possPWd_yes"},{"x":6.06,"y":420,"g":"possPWd_yes"},{"x":6.06,"y":300,"g":"possPWd_yes"},{"x":6.06,"y":60,"g":"possPWd_yes"},
{"x":6.16,"y":1010,"g":"possPWd_no"},{"x":6.16,"y":990,"g":"possPWd_no"},{"x":6.16,"y":900,"g":"possPWd_no"},{"x":6.16,"y":840,"g":"possPWd_no"},{"x":6.16,"y":780,"g":"possPWd_no"},{"x":6.16,"y":700,"g":"possPWd_no"},{"x":6.16,"y":640,"g":"possPWd_no"},{"x":6.16,"y":560,"g":"possPWd_no"},{"x":6.16,"y":500,"g":"possPWd_no"},{"x":6.16,"y":430,"g":"possPWd_no"},{"x":6.16,"y":380,"g":"possPWd_no"},{"x":6.16,"y":330,"g":"possPWd_no"},{"x":6.16,"y":280,"g":"possPWd_no"},{"x":6.16,"y":220,"g":"possPWd_no"},{"x":6.16,"y":160,"g":"possPWd_no"},{"x":6.16,"y":100,"g":"possPWd_no"},
{"x":6.16,"y":900,"g":"possPWd_yes"},{"x":6.16,"y":760,"g":"possPWd_yes"},{"x":6.16,"y":600,"g":"possPWd_yes"},{"x":6.16,"y":520,"g":"possPWd_yes"},{"x":6.16,"y":460,"g":"possPWd_yes"},{"x":6.16,"y":400,"g":"possPWd_yes"},{"x":6.16,"y":340,"g":"possPWd_yes"},{"x":6.16,"y":280,"g":"possPWd_yes"},{"x":6.16,"y":200,"g":"possPWd_yes"},{"x":6.16,"y":140,"g":"possPWd_yes"},
{"x":6.21,"y":500,"g":"possPWd_no"},{"x":6.21,"y":380,"g":"possPWd_no"},
{"x":6.21,"y":820,"g":"possPWd_yes"},{"x":6.21,"y":600,"g":"possPWd_yes"},{"x":6.21,"y":450,"g":"possPWd_yes"},{"x":6.21,"y":350,"g":"possPWd_yes"},{"x":6.21,"y":260,"g":"possPWd_yes"},
{"x":6.5,"y":803,"g":"possPWd_no"},{"x":6.5,"y":670,"g":"possPWd_no"},{"x":6.5,"y":600,"g":"possPWd_no"},{"x":6.5,"y":560,"g":"possPWd_no"},{"x":6.5,"y":333,"g":"possPWd_no"},
{"x":6.5,"y":671,"g":"possPWd_yes"},{"x":6.5,"y":406,"g":"possPWd_yes"},{"x":6.5,"y":340,"g":"possPWd_yes"},{"x":6.5,"y":280,"g":"possPWd_yes"},{"x":6.5,"y":215,"g":"possPWd_yes"},
{"x":6.8,"y":1574,"g":"possPWd_yes"},{"x":6.8,"y":1045,"g":"possPWd_yes"},{"x":6.8,"y":612,"g":"possPWd_yes"},{"x":6.8,"y":450,"g":"possPWd_yes"},{"x":6.8,"y":333,"g":"possPWd_yes"},{"x":6.8,"y":290,"g":"possPWd_yes"},{"x":6.8,"y":240,"g":"possPWd_yes"},{"x":6.8,"y":171,"g":"possPWd_yes"},
{"x":6.95,"y":1624,"g":"possPWd_no"},{"x":6.95,"y":1136,"g":"possPWd_no"},{"x":6.95,"y":745,"g":"possPWd_no"},{"x":6.95,"y":509,"g":"possPWd_no"},{"x":6.95,"y":470,"g":"possPWd_no"},{"x":6.95,"y":420,"g":"possPWd_no"},{"x":6.95,"y":380,"g":"possPWd_no"},{"x":6.95,"y":320,"g":"possPWd_no"},{"x":6.95,"y":260,"g":"possPWd_no"},{"x":6.95,"y":185,"g":"possPWd_no"},
{"x":7.16,"y":2195,"g":"possPWd_no"},{"x":7.16,"y":921,"g":"possPWd_no"},{"x":7.16,"y":568,"g":"possPWd_no"},{"x":7.16,"y":465,"g":"possPWd_no"},{"x":7.16,"y":400,"g":"possPWd_no"},{"x":7.16,"y":348,"g":"possPWd_no"},
{"x":7.23,"y":1892,"g":"possPWd_yes"},{"x":7.23,"y":1050,"g":"possPWd_yes"},{"x":7.23,"y":850,"g":"possPWd_yes"},{"x":7.23,"y":700,"g":"possPWd_yes"},{"x":7.23,"y":600,"g":"possPWd_yes"},{"x":7.23,"y":520,"g":"possPWd_yes"},{"x":7.23,"y":460,"g":"possPWd_yes"},{"x":7.23,"y":400,"g":"possPWd_yes"},{"x":7.23,"y":330,"g":"possPWd_yes"},{"x":7.23,"y":260,"g":"possPWd_yes"},{"x":7.23,"y":200,"g":"possPWd_yes"},
{"x":7.29,"y":1333,"g":"possPWd_yes"},{"x":7.29,"y":1147,"g":"possPWd_yes"},{"x":7.29,"y":965,"g":"possPWd_yes"},{"x":7.29,"y":875,"g":"possPWd_yes"},{"x":7.29,"y":790,"g":"possPWd_yes"},{"x":7.29,"y":700,"g":"possPWd_yes"},{"x":7.29,"y":630,"g":"possPWd_yes"},{"x":7.29,"y":560,"g":"possPWd_yes"},{"x":7.29,"y":515,"g":"possPWd_yes"},{"x":7.29,"y":475,"g":"possPWd_yes"},{"x":7.29,"y":415,"g":"possPWd_yes"},{"x":7.29,"y":360,"g":"possPWd_yes"},{"x":7.29,"y":300,"g":"possPWd_yes"},{"x":7.29,"y":240,"g":"possPWd_yes"},{"x":7.29,"y":150,"g":"possPWd_yes"},{"x":7.29,"y":100,"g":"possPWd_yes"},{"x":7.29,"y":80,"g":"possPWd_yes"},
{"x":7.35,"y":900,"g":"possPWd_yes"},{"x":7.35,"y":750,"g":"possPWd_yes"},{"x":7.35,"y":620,"g":"possPWd_yes"},{"x":7.35,"y":520,"g":"possPWd_yes"},{"x":7.35,"y":450,"g":"possPWd_yes"},
{"x":7.78,"y":1142,"g":"possPWd_no"},{"x":7.78,"y":580,"g":"possPWd_no"},{"x":7.78,"y":520,"g":"possPWd_no"},{"x":7.78,"y":480,"g":"possPWd_no"},{"x":7.78,"y":420,"g":"possPWd_no"},{"x":7.78,"y":350,"g":"possPWd_no"},{"x":7.78,"y":300,"g":"possPWd_no"},{"x":7.78,"y":250,"g":"possPWd_no"},
{"x":7.78,"y":1142,"g":"possPWd_yes"},{"x":7.78,"y":877,"g":"possPWd_yes"},{"x":7.78,"y":640,"g":"possPWd_yes"},{"x":7.78,"y":600,"g":"possPWd_yes"},{"x":7.78,"y":560,"g":"possPWd_yes"},{"x":7.78,"y":500,"g":"possPWd_yes"},{"x":7.78,"y":450,"g":"possPWd_yes"},{"x":7.78,"y":400,"g":"possPWd_yes"},{"x":7.78,"y":330,"g":"possPWd_yes"},{"x":7.78,"y":280,"g":"possPWd_yes"},
{"x":7.95,"y":1301,"g":"possPWd_yes"},{"x":7.95,"y":1045,"g":"possPWd_yes"},{"x":7.95,"y":701,"g":"possPWd_yes"},{"x":7.95,"y":598,"g":"possPWd_yes"},{"x":7.95,"y":560,"g":"possPWd_yes"},{"x":7.95,"y":494,"g":"possPWd_yes"},{"x":7.95,"y":465,"g":"possPWd_yes"},{"x":7.95,"y":156,"g":"possPWd_yes"},
{"x":8.16,"y":553,"g":"possPWd_no"},{"x":8.16,"y":494,"g":"possPWd_no"},{"x":8.16,"y":436,"g":"possPWd_no"},{"x":8.16,"y":400,"g":"possPWd_no"},{"x":8.16,"y":377,"g":"possPWd_no"},{"x":8.16,"y":333,"g":"possPWd_no"},{"x":8.16,"y":274,"g":"possPWd_no"},{"x":8.16,"y":215,"g":"possPWd_no"},{"x":8.16,"y":156,"g":"possPWd_no"},{"x":8.16,"y":97,"g":"possPWd_no"},
{"x":8.16,"y":1180,"g":"possPWd_yes"},{"x":8.16,"y":524,"g":"possPWd_yes"},{"x":8.16,"y":436,"g":"possPWd_yes"},{"x":8.16,"y":289,"g":"possPWd_yes"},
{"x":8.37,"y":1553,"g":"possPWd_yes"},{"x":8.37,"y":877,"g":"possPWd_yes"},{"x":8.37,"y":671,"g":"possPWd_yes"},{"x":8.37,"y":627,"g":"possPWd_yes"},{"x":8.37,"y":600,"g":"possPWd_yes"},{"x":8.37,"y":553,"g":"possPWd_yes"},{"x":8.37,"y":494,"g":"possPWd_yes"},{"x":8.37,"y":436,"g":"possPWd_yes"},{"x":8.37,"y":224,"g":"possPWd_yes"},
{"x":9.15,"y":2245,"g":"possPWd_yes"},{"x":9.15,"y":995,"g":"possPWd_yes"},{"x":9.15,"y":886,"g":"possPWd_yes"},{"x":9.15,"y":803,"g":"possPWd_yes"},{"x":9.15,"y":538,"g":"possPWd_yes"},{"x":9.15,"y":289,"g":"possPWd_yes"},{"x":9.15,"y":236,"g":"possPWd_yes"},
{"x":9.6,"y":1318,"g":"possPWd_yes"},{"x":9.6,"y":886,"g":"possPWd_yes"},{"x":9.6,"y":842,"g":"possPWd_yes"},{"x":9.6,"y":745,"g":"possPWd_yes"},{"x":9.6,"y":604,"g":"possPWd_yes"},{"x":9.6,"y":304,"g":"possPWd_yes"},{"x":9.6,"y":282,"g":"possPWd_yes"},{"x":9.6,"y":185,"g":"possPWd_yes"}
]},
"data": {"name": "pts"},
"mark": {"type": "circle", "size": 108, "opacity": 0.3, "strokeWidth": 0},
"encoding": {
  "x": {"field": "x", "type": "quantitative",
    "scale": {"domain": [-0.51, 10.6], "nice": false, "zero": false},
    "axis": {"title": null, "values": [0, 1.25, 2.5, 3.75, 5, 6.25, 7.5, 8.75, 10],
      "labelExpr": "datum.value % 2.5 == 0 ? format(datum.value, '.1f') : ''",
      "domain": false, "grid": true, "gridColor": "#EBEBEB",
      "gridWidth": {"condition": {"test": "datum.value % 2.5 != 0", "value": 0.6}, "value": 1.1},
      "tickColor": "#333333", "tickSize": 4, "tickWidth": 1,
      "tickOpacity": {"condition": {"test": "datum.value % 2.5 != 0", "value": 0}, "value": 1},
      "labelPadding": 4, "labelFontSize": 18, "labelColor": "#4D4D4D", "labelFont": "Liberation Sans", "labelFlush": false, "labelOverlap": false}},
  "y": {"field": "y", "type": "quantitative",
    "scale": {"domain": [-132, 2842], "nice": false, "zero": false},
    "axis": {"title": null, "values": [0, 500, 1000, 1500, 2000, 2500],
      "labelExpr": "datum.value % 1000 == 0 ? format(datum.value, 'd') : ''",
      "domain": false, "grid": true, "gridColor": "#EBEBEB",
      "gridWidth": {"condition": {"test": "datum.value % 1000 != 0", "value": 0.6}, "value": 1.1},
      "tickColor": "#333333", "tickSize": 4, "tickWidth": 1,
      "tickOpacity": {"condition": {"test": "datum.value % 1000 != 0", "value": 0}, "value": 1},
      "labelPadding": 4, "labelFontSize": 18, "labelColor": "#4D4D4D", "labelFont": "Liberation Sans", "labelOverlap": false}},
  "color": {"field": "g", "type": "nominal",
    "scale": {"domain": ["possPWd_no", "possPWd_yes"], "range": ["#FF0000", "#00008B"]},
    "legend": {"title": "possiblePWdAfterInfl", "orient": "none", "legendX": 63, "legendY": 414,
      "direction": "horizontal", "titleOrient": "left", "titleFontSize": 19.5, "titleFontWeight": "normal",
      "titleColor": "#000000", "titleFont": "Liberation Sans", "titlePadding": 14, "titleLimit": 400,
      "labelFontSize": 15, "labelColor": "#000000", "labelFont": "Liberation Sans", "labelOffset": 15, "labelLimit": 300,
      "columnPadding": 14, "symbolType": "circle", "symbolSize": 95, "symbolOpacity": 0.3, "symbolStrokeWidth": 0}}
}
}
